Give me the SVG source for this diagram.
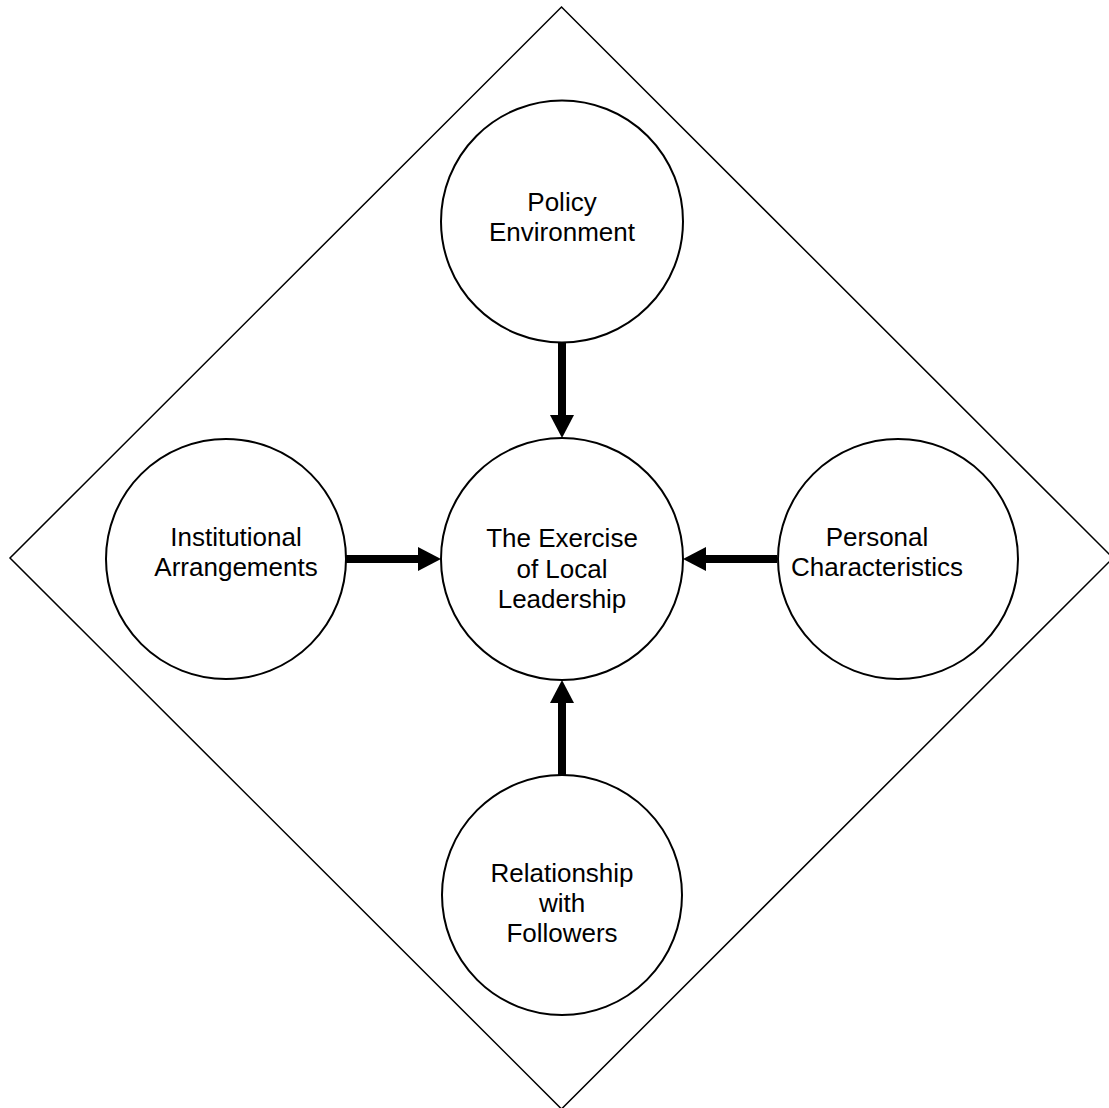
<svg xmlns="http://www.w3.org/2000/svg" width="1109" height="1108" viewBox="0 0 1109 1108">
<style>
.node circle{fill:#fff;stroke:#000;stroke-width:2}
.node text{font-family:"Liberation Sans",Arial,sans-serif;font-size:26px;fill:#000;text-anchor:middle}
.conn line{stroke:#000;stroke-width:8;fill:none}
</style>
<defs>
<marker id="ah" markerUnits="userSpaceOnUse" markerWidth="23" markerHeight="24" refX="0" refY="12" orient="auto" viewBox="0 0 23 24">
<path d="M0,0 L23,12 L0,24 z" fill="#000"/>
</marker>
</defs>
<rect width="1109" height="1108" fill="#fff"/>
<g id="frame">
<polygon points="561.5,7 1113,558 561.5,1109 10,558" fill="none" stroke="#000" stroke-width="1.5"/>
</g>
<g id="connectors" class="conn">
<line x1="562" y1="343" x2="562" y2="415" marker-end="url(#ah)"/>
<line x1="562" y1="775" x2="562" y2="703" marker-end="url(#ah)"/>
<line x1="346" y1="559" x2="418" y2="559" marker-end="url(#ah)"/>
<line x1="777" y1="559" x2="706" y2="559" marker-end="url(#ah)"/>
</g>
<g id="policy" class="node">
<circle cx="562" cy="221.5" r="121"/>
<text x="562" y="211">Policy</text>
<text x="562" y="241">Environment</text>
</g>
<g id="center" class="node">
<circle cx="562" cy="559" r="121"/>
<text x="562" y="547">The Exercise</text>
<text x="562" y="578">of Local</text>
<text x="562" y="608">Leadership</text>
</g>
<g id="institutional" class="node">
<circle cx="226" cy="559" r="120"/>
<text x="236" y="546">Institutional</text>
<text x="236" y="576">Arrangements</text>
</g>
<g id="personal" class="node">
<circle cx="898" cy="559" r="120"/>
<text x="877" y="546">Personal</text>
<text x="877" y="576">Characteristics</text>
</g>
<g id="relationship" class="node">
<circle cx="562" cy="895" r="120"/>
<text x="562" y="882">Relationship</text>
<text x="562" y="912">with</text>
<text x="562" y="942">Followers</text>
</g>
</svg>
